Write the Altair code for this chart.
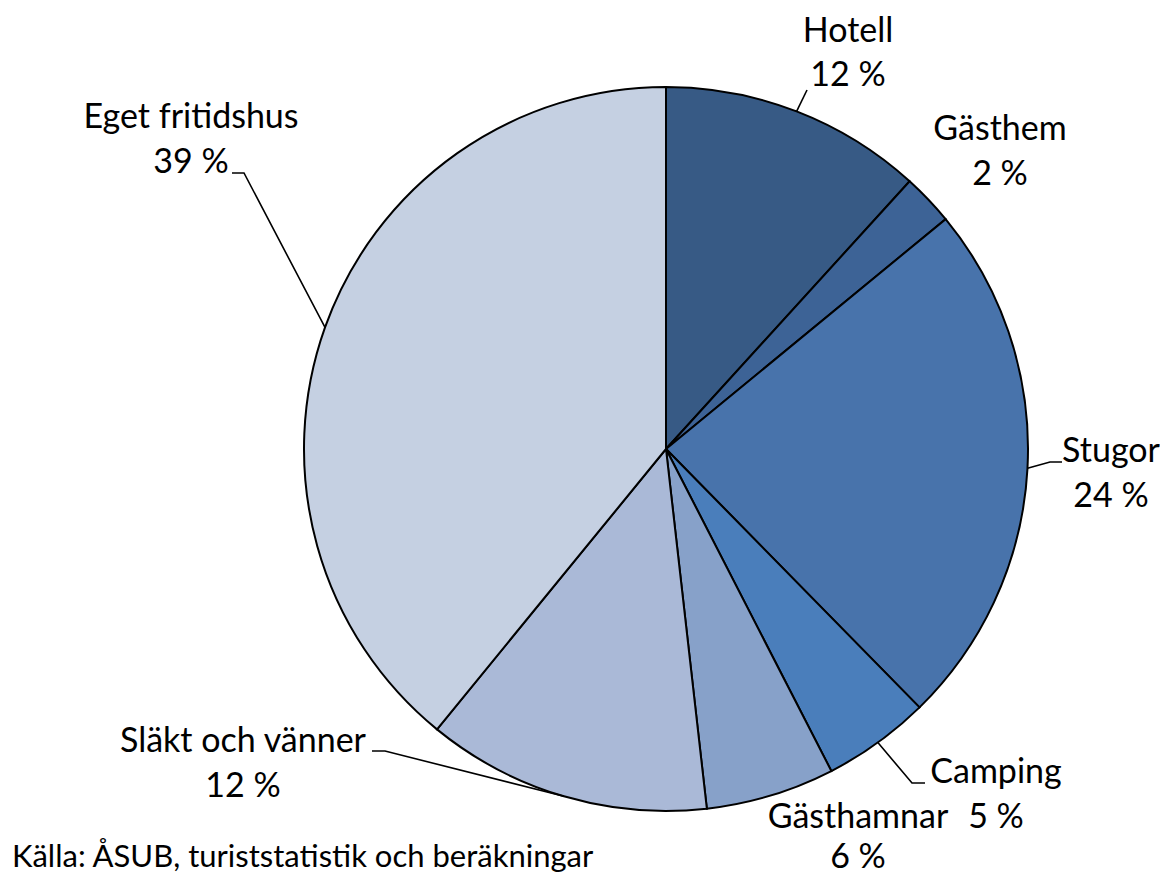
import math
import altair as alt
import pandas as pd

# ---- data ----
categories = ["Hotell", "Gästhem", "Stugor", "Camping", "Gästhamnar",
              "Släkt och vänner", "Eget fritidshus"]
shares = [11.75, 2.3, 23.6, 4.8, 5.75, 12.7, 39.1]
pct_labels = ["12 %", "2 %", "24 %", "5 %", "6 %", "12 %", "39 %"]
colors = ["#375A85", "#3D6396", "#4873AB", "#4A7EBB", "#87A1C9", "#AAB9D7", "#C5D0E2"]
source_note = "Källa: ÅSUB, turiststatistik och beräkningar"

# ---- layout (chart pixel coordinates) ----
W, H = 1152, 867
CX, CY, R = 658, 441, 362
FONT = "Lato"
FS = 34
# label anchor: centre x, baseline of first line, gap to second line
label_pos = {
    "Hotell": (840, 34, 44),
    "Gästhem": (992, 132, 45),
    "Stugor": (1103, 454, 45),
    "Camping": (988, 775, 45),
    "Gästhamnar": (850, 820, 40),
    "Släkt och vänner": (235, 744, 45),
    "Eget fritidshus": (183, 120, 45),
}
# leader line points after the slice edge point (elbow, end)
leader_pts = {
    "Hotell": [(799, 82)],
    "Stugor": [(1042, 454), (1054, 454)],
    "Camping": [(904, 775), (917, 775)],
    "Släkt och vänner": [(377, 743), (364, 743)],
    "Eget fritidshus": [(236, 165), (224, 165)],
}

# ---- tables ----
pie_df = pd.DataFrame({"cat": categories, "share": shares, "order": list(range(len(categories)))})

total = sum(shares)
cum = 0.0
mid_angle = {}
for c, s in zip(categories, shares):
    mid_angle[c] = (cum + s / 2) / total * 2 * math.pi
    cum += s

lead_rows = []
for c, pts in leader_pts.items():
    a = mid_angle[c]
    sx, sy = CX + R * math.sin(a), CY - R * math.cos(a)
    lead_rows.append({"cat": c, "i": 0, "x": sx, "y": sy})
    for k, (px, py) in enumerate(pts):
        lead_rows.append({"cat": c, "i": k + 1, "x": px, "y": py})
lead_df = pd.DataFrame(lead_rows)

lab_rows = []
for c, p in zip(categories, pct_labels):
    lx, ly, gap = label_pos[c]
    lab_rows.append({"t": c, "x": lx, "y": ly})
    lab_rows.append({"t": p, "x": lx, "y": ly + gap})
lab_df = pd.DataFrame(lab_rows)

src_df = pd.DataFrame({"t": [source_note], "x": [4], "y": [859]})

xs = alt.Scale(domain=[0, W], nice=False, zero=False)
ys = alt.Scale(domain=[H, 0], nice=False, zero=False)

arc = alt.Chart(pie_df).mark_arc(radius=R, stroke="black", strokeWidth=2).encode(
    theta=alt.Theta("share:Q", stack=True),
    color=alt.Color("cat:N", scale=alt.Scale(domain=categories, range=colors), legend=None),
    order=alt.Order("order:Q"),
    x=alt.value(CX),
    y=alt.value(CY),
)

leaders = alt.Chart(lead_df).mark_line(color="black", strokeWidth=1.6).encode(
    x=alt.X("x:Q", scale=xs, axis=None),
    y=alt.Y("y:Q", scale=ys, axis=None),
    detail="cat:N",
    order="i:Q",
)

labels = alt.Chart(lab_df).mark_text(
    font=FONT, fontSize=FS, color="black", align="center", baseline="alphabetic"
).encode(
    x=alt.X("x:Q", scale=xs, axis=None),
    y=alt.Y("y:Q", scale=ys, axis=None),
    text="t:N",
)

source = alt.Chart(src_df).mark_text(
    font=FONT, fontSize=31, color="black", align="left", baseline="alphabetic"
).encode(
    x=alt.X("x:Q", scale=xs, axis=None),
    y=alt.Y("y:Q", scale=ys, axis=None),
    text="t:N",
)

chart = alt.layer(arc, leaders, labels, source).properties(
    width=W, height=H, autosize=alt.AutoSizeParams(type="none"), padding=0
).configure_view(stroke=None, strokeWidth=0, strokeOpacity=0)

chart.save("out.html", embed_options={"renderer": "svg", "actions": False})
